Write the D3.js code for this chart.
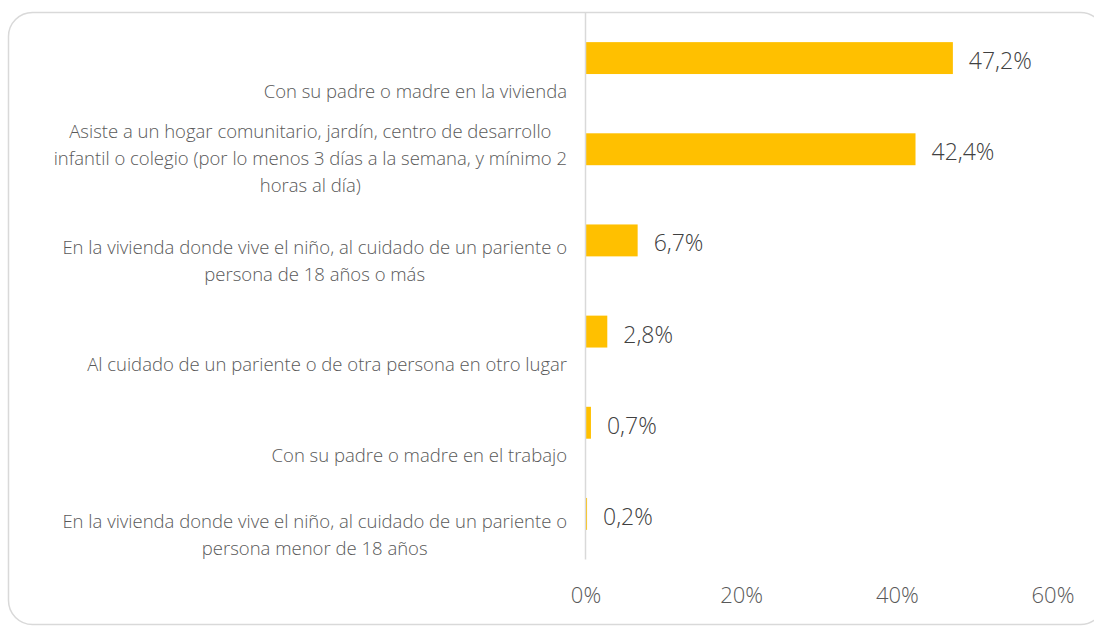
<!DOCTYPE html>
<html>
<head>
<meta charset="utf-8">
<script src="https://cdn.jsdelivr.net/npm/d3@7"></script>
<style>
  html, body { margin: 0; padding: 0; background: #fff; overflow: hidden; }
  svg { display: block; font-family: "Open Sans", "Noto Sans", sans-serif; }
</style>
</head>
<body>
<svg id="chart" width="1094" height="626"></svg>
<script>
// ---- data ----
const categories = [
  ["Con su padre o madre en la vivienda"],
  ["Asiste a un hogar comunitario, jardín, centro de desarrollo", "infantil o colegio (por lo menos 3 días a la semana, y mínimo 2", "horas al día)"],
  ["En la vivienda donde vive el niño, al cuidado de un pariente o", "persona de 18 años o más"],
  ["Al cuidado de un pariente o de otra persona en otro lugar"],
  ["Con su padre o madre en el trabajo"],
  ["En la vivienda donde vive el niño, al cuidado de un pariente o", "persona menor de 18 años"]
];
const values = [47.2, 42.4, 6.7, 2.8, 0.7, 0.2];
const valueLabels = ["47,2%", "42,4%", "6,7%", "2,8%", "0,7%", "0,2%"];
const xTicks = [0, 20, 40, 60];
const xTickLabels = ["0%", "20%", "40%", "60%"];

// ---- layout ----
const svg = d3.select("#chart");

svg.append("rect")
  .attr("x", 8.5).attr("y", 12.5)
  .attr("width", 1096).attr("height", 612)
  .attr("rx", 24).attr("ry", 24)
  .attr("fill", "#fff").attr("stroke", "#d9d9d9").attr("stroke-width", 1.5);

const x = d3.scaleLinear().domain([0, 60]).range([585.5, 1052.5]);
const y = d3.scaleBand().domain(d3.range(categories.length)).range([12.5, 559.5]).paddingInner(0.65).paddingOuter(0.325);

// bars
svg.append("g").selectAll("rect").data(values).join("rect")
  .attr("x", x(0))
  .attr("y", (d, i) => y(i))
  .attr("width", d => x(d) - x(0))
  .attr("height", y.bandwidth())
  .attr("fill", "#FFC000");

// axis line (category axis)
svg.append("line")
  .attr("x1", x(0)).attr("x2", x(0))
  .attr("y1", 12.5).attr("y2", 559.5)
  .attr("stroke", "#d9d9d9").attr("stroke-width", 1.5);

// value labels
svg.append("g").selectAll("text").data(values).join("text")
  .attr("x", d => x(d) + 16)
  .attr("y", (d, i) => y(i) + y.bandwidth() / 2 + 3)
  .attr("dy", "0.35em")
  .attr("font-size", 23)
  .attr("font-weight", 300)
  .attr("fill", "#404040")
  .text((d, i) => valueLabels[i]);

// x axis tick labels via d3 axis
const xAxis = d3.axisBottom(x).tickValues(xTicks).tickFormat((d, i) => xTickLabels[i]).tickSize(0).tickPadding(0);
const gx = svg.append("g").attr("transform", "translate(0,587)").call(xAxis);
gx.select(".domain").remove();
gx.selectAll("text")
  .attr("font-size", 22)
  .attr("font-weight", 300)
  .attr("font-family", "Open Sans, Noto Sans, sans-serif")
  .attr("fill", "#595959")
  .attr("dy", "0.35em")
  .attr("y", 8);

// category labels (right-aligned block, centered lines)
const labelRight = 567;
const lineH = 27;
const gl = svg.append("g");
categories.forEach((lines, i) => {
  const g = gl.append("g");
  const cy = y(i) + y.bandwidth() / 2;
  const n = lines.length;
  const last = cy + 33 + (n - 1) * 1.5;
  const texts = lines.map((ln, k) => g.append("text")
    .attr("y", last - (n - 1 - k) * lineH)
    .attr("dy", "0.35em")
    .attr("font-size", 18.5)
    .attr("font-weight", 300)
    .attr("fill", "#595959")
    .attr("text-anchor", "middle")
    .text(ln));
  const maxW = d3.max(texts, t => t.node().getComputedTextLength());
  texts.forEach(t => t.attr("x", labelRight - maxW / 2));
});
</script>
</body>
</html>
